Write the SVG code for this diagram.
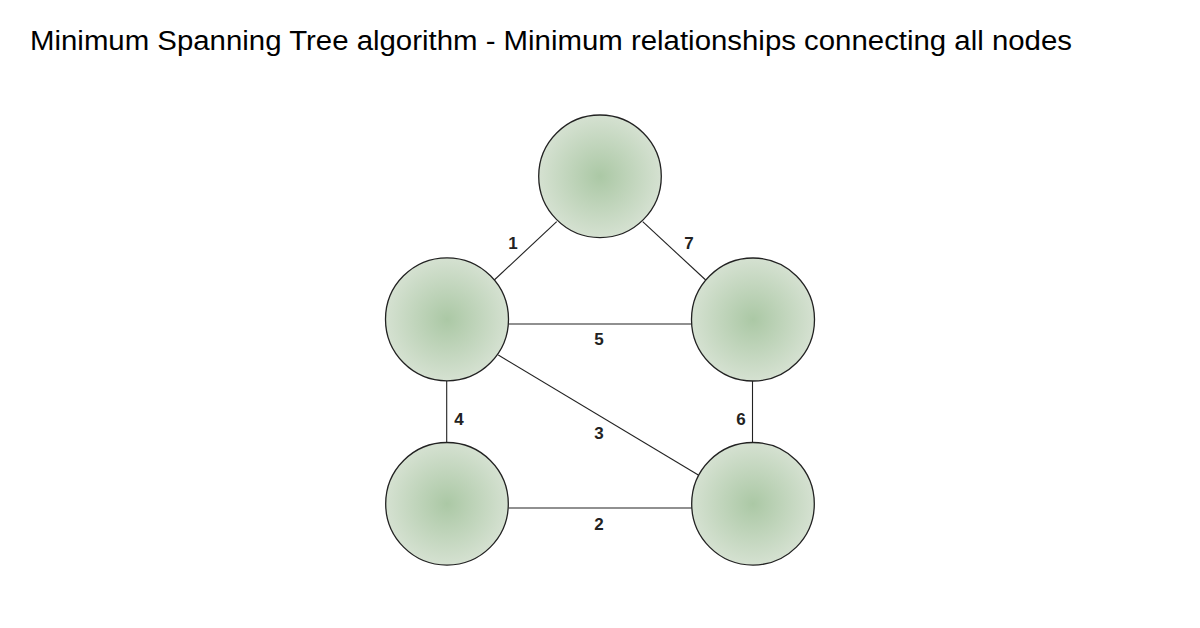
<svg xmlns="http://www.w3.org/2000/svg" width="1200" height="628" viewBox="0 0 1200 628">
<defs>
<radialGradient id="g" cx="50%" cy="50%" r="50%">
<stop offset="0" stop-color="#abc8a5"/>
<stop offset="1" stop-color="#d5e1d1"/>
</radialGradient>
</defs>
<style>
.n{fill:url(#g);stroke:#222;stroke-width:1.3}
.e{stroke:#222;stroke-width:1.1;fill:none}
.l{font-family:"Liberation Sans",Arial,sans-serif;font-weight:bold;font-size:17px;fill:#222;text-anchor:middle}
.t{font-family:"Liberation Sans",Arial,sans-serif;font-size:27px;fill:#000}
</style>
<rect width="1200" height="628" fill="#fff"/>
<text class="t" x="30" y="50" textLength="1042" lengthAdjust="spacingAndGlyphs">Minimum Spanning Tree algorithm - Minimum relationships connecting all nodes</text>
<g id="connectors">
<line class="e" x1="494.3" y1="280" x2="556.7" y2="221.7"/>
<line class="e" x1="642.7" y1="221.7" x2="705.7" y2="280"/>
<line class="e" x1="508.7" y1="324" x2="691.7" y2="324"/>
<line class="e" x1="498.3" y1="355" x2="698.3" y2="475"/>
<line class="e" x1="446.7" y1="380.5" x2="446.7" y2="442.7"/>
<line class="e" x1="752.5" y1="380.5" x2="752.5" y2="442.7"/>
<line class="e" x1="508.7" y1="508" x2="691.7" y2="508"/>
<text class="l" x="513" y="249">1</text>
<text class="l" x="689" y="249">7</text>
<text class="l" x="599" y="345">5</text>
<text class="l" x="459" y="425">4</text>
<text class="l" x="741" y="425">6</text>
<text class="l" x="599" y="439">3</text>
<text class="l" x="599" y="530">2</text>
</g>
<g id="n-top"><circle class="n" cx="600" cy="176.3" r="61.3"/></g>
<g id="n-left"><circle class="n" cx="447" cy="319.3" r="61.5"/></g>
<g id="n-right"><circle class="n" cx="753" cy="319.5" r="61.5"/></g>
<g id="n-bottom-left"><circle class="n" cx="447" cy="503.8" r="61.3"/></g>
<g id="n-bottom-right"><circle class="n" cx="753" cy="503.8" r="61.3"/></g>
</svg>
